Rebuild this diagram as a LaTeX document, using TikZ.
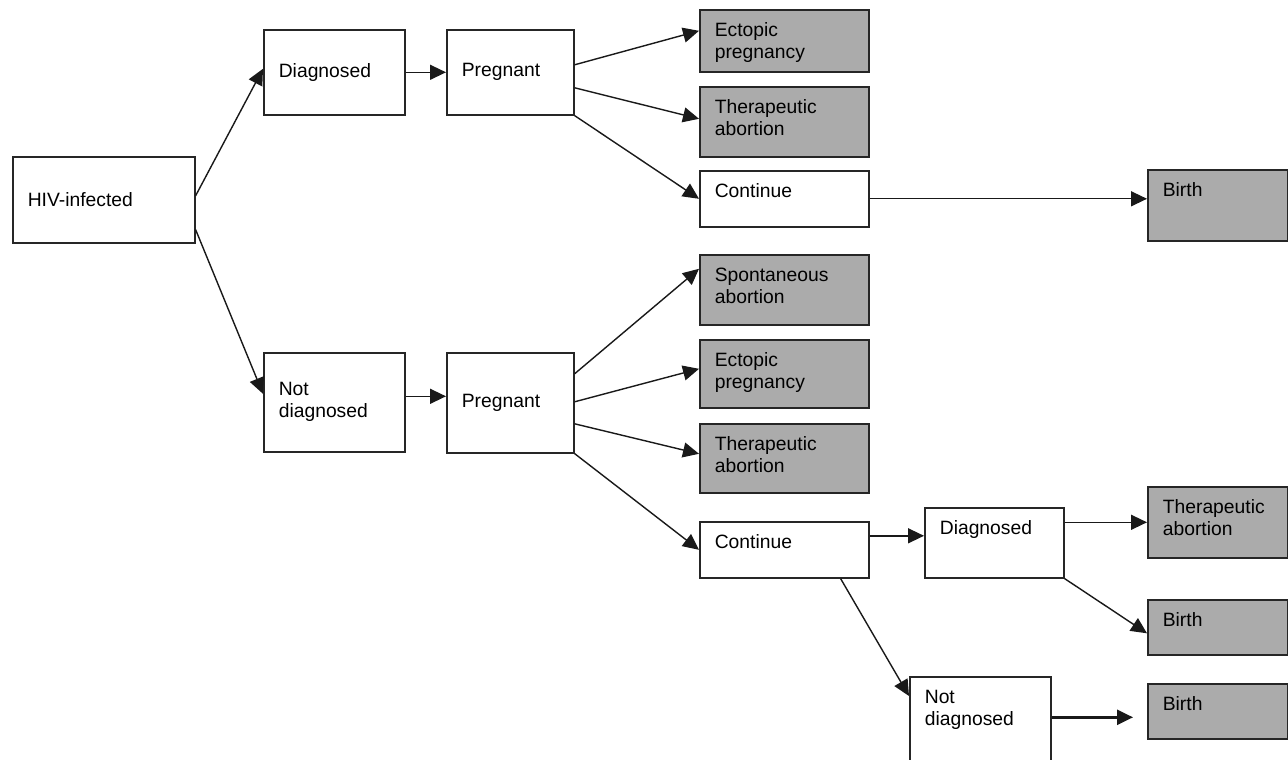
\documentclass[tikz,border=0pt]{standalone}
\usepackage{fontspec}
\setmainfont{Liberation Sans}
\usetikzlibrary{arrows.meta, calc}
\definecolor{outgray}{RGB}{171, 171, 171}

\begin{document}
\begin{tikzpicture}[
  x=0.5pt, y=-0.5pt,
  every node/.style={font=\fontsize{9.65pt}{11pt}\selectfont},
  stage/.style={draw=black!85, line width=0.8pt, fill=white, anchor=north west, align=left, inner xsep=7.5pt, inner ysep=0pt},
  branch/.style={stage, text height=13.5pt},
  outcome/.style={branch, fill=outgray},
  link/.style={-{Triangle[length=8pt, width=7.5pt]}, line width=0.7pt, black!90}
]
  \useasboundingbox (0,0) rectangle (1288,759);
  \clip (0,0) rectangle (1288,759);
  \fill[white] (0,0) rectangle (1288,759);

  % Start
  \node[stage, text width=76pt, minimum height=43pt] (hiv) at (12,156) {HIV-infected};

  % Diagnosed branch
  \node[stage, text width=55.5pt, minimum height=42.5pt] (dx) at (263,29) {Diagnosed};
  \node[stage, text width=48.5pt, minimum height=42.5pt] (preg) at (446,29) {Pregnant};
  \node[outcome, text width=69.5pt, text depth=17.5pt] (ect) at (699,9) {Ectopic\\pregnancy};
  \node[outcome, text width=69.5pt, text depth=21.5pt] (ther) at (699,86) {Therapeutic\\abortion};
  \node[branch, text width=69.5pt, text depth=14.5pt] (cont) at (699,170) {Continue};
  \node[outcome, text width=55pt, text depth=22pt] (birth) at (1147,169) {Birth};

  % Not diagnosed branch
  \node[stage, text width=55.5pt, minimum height=49.5pt] (ndx) at (263,352) {Not\\diagnosed};
  \node[stage, text width=48.5pt, minimum height=50pt] (pregnd) at (446,352) {Pregnant};
  \node[outcome, text width=69.5pt, text depth=21.5pt] (spont) at (699,254) {Spontaneous\\abortion};
  \node[outcome, text width=69.5pt, text depth=20.5pt] (ectnd) at (699,339) {Ectopic\\pregnancy};
  \node[outcome, text width=69.5pt, text depth=21pt] (thernd) at (699,423) {Therapeutic\\abortion};
  \node[branch, text width=69.5pt, text depth=14.5pt] (contnd) at (699,521) {Continue};

  % Late diagnosis
  \node[branch, text width=54.5pt, text depth=21.5pt] (dxlate) at (924,507) {Diagnosed};
  \node[branch, text width=55.5pt, text depth=41.5pt] (ndxlate) at (909,676) {Not\\diagnosed};
  \node[outcome, text width=55pt, text depth=22pt] (therlate) at (1147,486) {Therapeutic\\abortion};
  \node[outcome, text width=55pt, text depth=14pt] (birthdx) at (1147,599) {Birth};
  \node[outcome, text width=55pt, text depth=14pt] (birthndx) at (1147,683) {Birth};

  \coordinate (ndxout) at ([yshift=3pt]ndx.east);
  \coordinate (contout) at ([yshift=7pt]contnd.east);
  \coordinate (birthin) at ([yshift=-3pt]birthndx.west);

  \draw[link] ([yshift=2pt]hiv.east) -- ([yshift=1.75pt]dx.west);
  \draw[link] ([yshift=7pt]hiv.south east) -- ([yshift=4.25pt]ndx.west);
  \draw[link] (dx) -- (preg);
  \draw[link] (ndxout) -- (ndxout -| pregnd.west);

  \draw[link] ([yshift=3.75pt]preg.east) -- ([yshift=5pt]ect.west);
  \draw[link] ([yshift=-7.75pt]preg.east) -- ([yshift=1.5pt]ther.west);
  \draw[link] (preg.south east) -- (cont.west);
  \draw[link] (cont.east) -- (cont.east -| birth.west);

  \draw[link] ([yshift=14.5pt]pregnd.east) -- ([yshift=10.5pt]spont.west);
  \draw[link] ([yshift=0.5pt]pregnd.east) -- ([yshift=2.5pt]ectnd.west);
  \draw[link] ([yshift=-10.5pt]pregnd.east) -- ([yshift=2.25pt]thernd.west);
  \draw[link] (pregnd.south east) -- (contnd.west);

  \draw[link] (contout) -- (contout -| dxlate.west);
  \draw[link] ([xshift=-14.5pt]contnd.south east) -- ([yshift=-10pt]ndxlate.north west);
  \draw[link] (therlate.west -| dxlate.east) -- (therlate.west);
  \draw[link] (dxlate.south east) -- ([yshift=-3pt]birthdx.west);
  \draw[link, line width=1.2pt, shorten >=7pt] (birthin -| ndxlate.east) -- (birthin);
\end{tikzpicture}
\end{document}
